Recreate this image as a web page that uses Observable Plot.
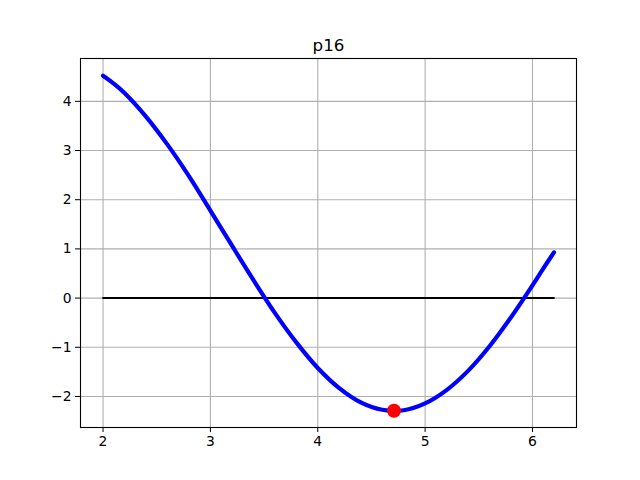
<!DOCTYPE html>
<html>
<head>
<meta charset="utf-8">
<script src="https://cdn.jsdelivr.net/npm/d3@7"></script>
<script src="https://cdn.jsdelivr.net/npm/@observablehq/plot@0.6"></script>
<style>
  html, body { margin: 0; padding: 0; background: white; }
</style>
</head>
<body>
<div id="chart"></div>
<script>
const titleText = "p16";
const xValues = [2.0, 2.1, 2.2, 2.4, 2.6, 2.8, 3.0, 3.2, 3.4, 3.6, 3.8, 4.0, 4.2, 4.4, 4.6, 4.8, 5.0, 5.2, 5.4, 5.6, 5.8, 6.0, 6.1, 6.2];
const yValues = [4.52, 4.36, 4.17, 3.69, 3.12, 2.48, 1.78, 1.07, 0.37, -0.30, -0.90, -1.42, -1.83, -2.12, -2.27, -2.28, -2.14, -1.87, -1.48, -0.98, -0.39, 0.26, 0.60, 0.93];
const zeroLineX = [2.0, 6.2];
const zeroLineY = [0, 0];
const minPointX = [4.71];
const minPointY = [-2.29];
const xTicks = [2, 3, 4, 5, 6];
const yTicks = [-2, -1, 0, 1, 2, 3, 4];

const curve = xValues.map((x, i) => ({x, y: yValues[i]}));
const zero = zeroLineX.map((x, i) => ({x, y: zeroLineY[i]}));
const minPt = minPointX.map((x, i) => ({x, y: minPointY[i]}));

const chart = Plot.plot({
  width: 640,
  height: 480,
  marginLeft: 80,
  marginRight: 64,
  marginTop: 58,
  marginBottom: 53,
  style: {fontFamily: "DejaVu Sans", fontSize: "13.9px", background: "white", color: "black"},
  x: {domain: [1.79, 6.41]},
  y: {domain: [-2.631, 4.871]},
  marks: [
    Plot.gridX(xTicks, {stroke: "#b0b0b0", strokeOpacity: 1, strokeWidth: 1.1}),
    Plot.gridY(yTicks, {stroke: "#b0b0b0", strokeOpacity: 1, strokeWidth: 1.1}),
    Plot.axisX(xTicks, {tickSize: 5, tickPadding: 4, label: null, fontSize: 13.9}),
    Plot.axisY(yTicks, {tickSize: 5, tickPadding: 4, label: null, fontSize: 13.9}),
    Plot.line(zero, {x: "x", y: "y", stroke: "black", strokeWidth: 2}),
    Plot.line(curve, {x: "x", y: "y", stroke: "blue", strokeWidth: 4.2, curve: "catmull-rom"}),
    Plot.dot(minPt, {x: "x", y: "y", r: 7, fill: "red", stroke: "none"}),
    Plot.frame({stroke: "black", strokeWidth: 1.1}),
    Plot.text([titleText], {frameAnchor: "top", lineAnchor: "bottom", dy: -8, fontSize: 16.7, fill: "black"})
  ]
});
document.getElementById("chart").appendChild(chart);
</script>
</body>
</html>
